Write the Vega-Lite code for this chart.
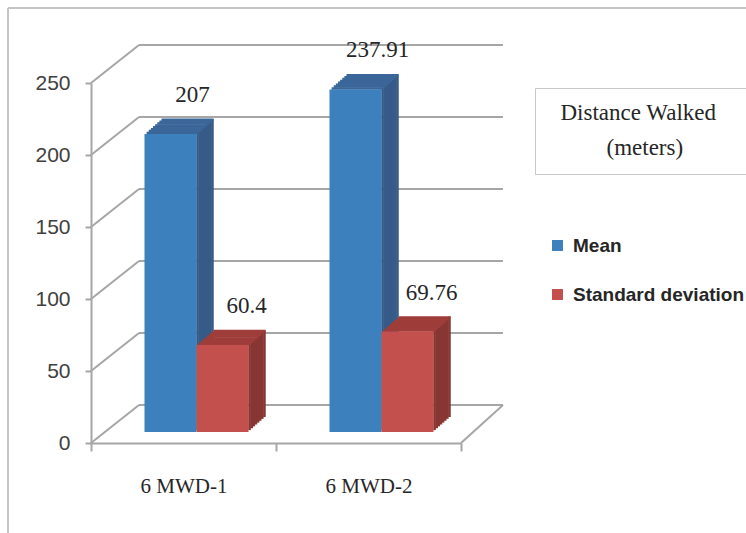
{
  "$schema": "https://vega.github.io/schema/vega-lite/v6.json",
  "width": 370,
  "height": 360,
  "autosize": {"type": "none"},
  "padding": {"left": 91, "top": 83, "right": 285, "bottom": 90},
  "background": "white",
  "config": {"view": {"stroke": null}},
  "data": {"values": [
    {"group": "6 MWD-1", "series": "Mean", "value": 207},
    {"group": "6 MWD-1", "series": "Standard deviation", "value": 60.4},
    {"group": "6 MWD-2", "series": "Mean", "value": 237.91},
    {"group": "6 MWD-2", "series": "Standard deviation", "value": 69.76}
  ]},
  "layer": [
    {"data": {"values": [{"v": 250}]}, "mark": {"type": "rule", "color": "#C4C4C4", "strokeWidth": 2, "xOffset": -175.5, "x2Offset": 562.5, "yOffset": -75},
     "encoding": {"x": {"datum": "6 MWD-1", "type": "nominal", "scale": {"type": "band", "domain": ["6 MWD-1", "6 MWD-2"], "paddingInner": 0, "paddingOuter": 0}}, "x2": {"datum": "6 MWD-1"}, "y": {"field": "v", "type": "quantitative", "scale": {"domain": [0, 250], "nice": false}}}},
    {"data": {"values": [{"v": 250, "w": 0}]}, "mark": {"type": "rule", "color": "#C4C4C4", "strokeWidth": 2, "xOffset": -175.5, "x2Offset": -175.5, "yOffset": -75, "y2Offset": 92},
     "encoding": {"x": {"datum": "6 MWD-1", "type": "nominal"}, "x2": {"datum": "6 MWD-1"}, "y": {"field": "v", "type": "quantitative"}, "y2": {"field": "w"}}},
    {"data": {"values": [{"v": 0}, {"v": 50}, {"v": 100}, {"v": 150}, {"v": 200}, {"v": 250}]}, "mark": {"type": "rule", "color": "#A6A6A6", "strokeWidth": 2, "xOffset": -44.5, "x2Offset": 319.5, "yOffset": -38},
     "encoding": {"x": {"datum": "6 MWD-1", "type": "nominal"}, "x2": {"datum": "6 MWD-1"}, "y": {"field": "v", "type": "quantitative"}}},
    {"data": {"values": [{"v": 0}, {"v": 50}, {"v": 100}, {"v": 150}, {"v": 200}, {"v": 250}]}, "mark": {"type": "rule", "color": "#A6A6A6", "strokeWidth": 2, "xOffset": -92.5, "x2Offset": -44.5, "y2Offset": -38},
     "encoding": {"x": {"datum": "6 MWD-1", "type": "nominal"}, "x2": {"datum": "6 MWD-1"}, "y": {"field": "v", "type": "quantitative"}, "y2": {"field": "v"}}},
    {"data": {"values": [{"v": 0}]}, "mark": {"type": "rule", "color": "#A6A6A6", "strokeWidth": 2, "xOffset": 92.5, "x2Offset": 134.5, "y2Offset": -38},
     "encoding": {"x": {"datum": "6 MWD-2", "type": "nominal"}, "x2": {"datum": "6 MWD-2"}, "y": {"field": "v", "type": "quantitative"}, "y2": {"field": "v"}}},

    {"transform": [{"filter": "datum.series === 'Mean'"}], "mark": {"type": "bar", "width": 2.6, "color": "#365B88", "xOffset": 14.06, "yOffset": -12.88, "y2Offset": -12.88}, "encoding": {"x": {"field": "group", "type": "nominal"}, "y": {"field": "value", "type": "quantitative"}, "y2": {"datum": 0}}},
    {"transform": [{"filter": "datum.series === 'Mean'"}], "mark": {"type": "bar", "width": 2.6, "color": "#365B88", "xOffset": 16.19, "yOffset": -14.75, "y2Offset": -14.75}, "encoding": {"x": {"field": "group", "type": "nominal"}, "y": {"field": "value", "type": "quantitative"}, "y2": {"datum": 0}}},
    {"transform": [{"filter": "datum.series === 'Mean'"}], "mark": {"type": "bar", "width": 2.6, "color": "#365B88", "xOffset": 18.31, "yOffset": -16.63, "y2Offset": -16.63}, "encoding": {"x": {"field": "group", "type": "nominal"}, "y": {"field": "value", "type": "quantitative"}, "y2": {"datum": 0}}},
    {"transform": [{"filter": "datum.series === 'Mean'"}], "mark": {"type": "bar", "width": 2.6, "color": "#365B88", "xOffset": 20.44, "yOffset": -18.5, "y2Offset": -18.5}, "encoding": {"x": {"field": "group", "type": "nominal"}, "y": {"field": "value", "type": "quantitative"}, "y2": {"datum": 0}}},
    {"transform": [{"filter": "datum.series === 'Mean'"}], "mark": {"type": "bar", "width": 2.6, "color": "#365B88", "xOffset": 22.56, "yOffset": -20.38, "y2Offset": -20.38}, "encoding": {"x": {"field": "group", "type": "nominal"}, "y": {"field": "value", "type": "quantitative"}, "y2": {"datum": 0}}},
    {"transform": [{"filter": "datum.series === 'Mean'"}], "mark": {"type": "bar", "width": 2.6, "color": "#365B88", "xOffset": 24.69, "yOffset": -22.25, "y2Offset": -22.25}, "encoding": {"x": {"field": "group", "type": "nominal"}, "y": {"field": "value", "type": "quantitative"}, "y2": {"datum": 0}}},
    {"transform": [{"filter": "datum.series === 'Mean'"}], "mark": {"type": "bar", "width": 2.6, "color": "#365B88", "xOffset": 26.81, "yOffset": -24.13, "y2Offset": -24.13}, "encoding": {"x": {"field": "group", "type": "nominal"}, "y": {"field": "value", "type": "quantitative"}, "y2": {"datum": 0}}},
    {"transform": [{"filter": "datum.series === 'Mean'"}], "mark": {"type": "bar", "width": 2.6, "color": "#365B88", "xOffset": 28.94, "yOffset": -26, "y2Offset": -26}, "encoding": {"x": {"field": "group", "type": "nominal"}, "y": {"field": "value", "type": "quantitative"}, "y2": {"datum": 0}}},

    {"transform": [{"filter": "datum.series === 'Mean'"}], "mark": {"type": "bar", "width": 52, "color": "#3A6699", "xOffset": -10.88, "yOffset": -13.18, "y2Offset": -10.7}, "encoding": {"x": {"field": "group", "type": "nominal"}, "y": {"field": "value", "type": "quantitative"}, "y2": {"field": "value"}}},
    {"transform": [{"filter": "datum.series === 'Mean'"}], "mark": {"type": "bar", "width": 52, "color": "#3A6699", "xOffset": -8.75, "yOffset": -15.05, "y2Offset": -12.58}, "encoding": {"x": {"field": "group", "type": "nominal"}, "y": {"field": "value", "type": "quantitative"}, "y2": {"field": "value"}}},
    {"transform": [{"filter": "datum.series === 'Mean'"}], "mark": {"type": "bar", "width": 52, "color": "#3A6699", "xOffset": -6.63, "yOffset": -16.93, "y2Offset": -14.45}, "encoding": {"x": {"field": "group", "type": "nominal"}, "y": {"field": "value", "type": "quantitative"}, "y2": {"field": "value"}}},
    {"transform": [{"filter": "datum.series === 'Mean'"}], "mark": {"type": "bar", "width": 52, "color": "#3A6699", "xOffset": -4.5, "yOffset": -18.8, "y2Offset": -16.33}, "encoding": {"x": {"field": "group", "type": "nominal"}, "y": {"field": "value", "type": "quantitative"}, "y2": {"field": "value"}}},
    {"transform": [{"filter": "datum.series === 'Mean'"}], "mark": {"type": "bar", "width": 52, "color": "#3A6699", "xOffset": -2.38, "yOffset": -20.68, "y2Offset": -18.2}, "encoding": {"x": {"field": "group", "type": "nominal"}, "y": {"field": "value", "type": "quantitative"}, "y2": {"field": "value"}}},
    {"transform": [{"filter": "datum.series === 'Mean'"}], "mark": {"type": "bar", "width": 52, "color": "#3A6699", "xOffset": -0.25, "yOffset": -22.55, "y2Offset": -20.08}, "encoding": {"x": {"field": "group", "type": "nominal"}, "y": {"field": "value", "type": "quantitative"}, "y2": {"field": "value"}}},
    {"transform": [{"filter": "datum.series === 'Mean'"}], "mark": {"type": "bar", "width": 52, "color": "#3A6699", "xOffset": 1.88, "yOffset": -24.43, "y2Offset": -21.95}, "encoding": {"x": {"field": "group", "type": "nominal"}, "y": {"field": "value", "type": "quantitative"}, "y2": {"field": "value"}}},
    {"transform": [{"filter": "datum.series === 'Mean'"}], "mark": {"type": "bar", "width": 52, "color": "#3A6699", "xOffset": 4, "yOffset": -26.3, "y2Offset": -23.83}, "encoding": {"x": {"field": "group", "type": "nominal"}, "y": {"field": "value", "type": "quantitative"}, "y2": {"field": "value"}}},

    {"transform": [{"filter": "datum.series === 'Mean'"}], "mark": {"type": "bar", "width": 52, "xOffset": -13, "yOffset": -11, "y2Offset": -11},
     "encoding": {
       "x": {"field": "group", "type": "nominal", "axis": {"title": null, "tickBand": "extent", "tickSize": 8, "labelAngle": 0, "labelAlign": "center", "labelFont": "Liberation Serif", "labelFontSize": 21, "labelColor": "#262626", "labelPadding": 35, "domainColor": "#A6A6A6", "domainWidth": 2, "tickColor": "#A6A6A6", "tickWidth": 2}},
       "y": {"field": "value", "type": "quantitative", "axis": {"values": [0, 50, 100, 150, 200, 250], "title": null, "grid": false, "domainColor": "#A6A6A6", "domainWidth": 2, "tickColor": "#A6A6A6", "tickWidth": 2, "tickSize": 6, "labelFont": "Liberation Sans", "labelFontSize": 21, "labelColor": "#404040", "labelPadding": 15}},
       "y2": {"datum": 0},
       "color": {"field": "series", "type": "nominal", "scale": {"domain": ["Mean", "Standard deviation"], "range": ["#3D80BE", "#C3504D"]},
         "legend": {"title": null, "orient": "none", "legendX": 457, "legendY": 153, "symbolType": "square", "symbolSize": 120, "symbolStrokeWidth": 0, "labelFont": "Liberation Sans", "labelFontWeight": "bold", "labelFontSize": 19, "labelColor": "#262626", "labelLimit": 400, "rowPadding": 29, "padding": 0, "labelOffset": 6}},
       "opacity": {"field": "group", "type": "nominal", "scale": {"range": [1, 1]},
         "legend": {"title": ["\u200b\u00a0\u00a0Distance Walked\u00a0\u00a0\u00a0\u200b", "\u200b\u00a0\u00a0\u00a0\u00a0\u00a0\u00a0\u00a0\u00a0\u00a0\u00a0(meters)"], "values": [], "orient": "none", "legendX": 444, "legendY": 5, "strokeColor": "#C8C8C8", "padding": 14, "titlePadding": 0, "titleFont": "Liberation Serif", "titleFontSize": 23, "titleFontWeight": "normal", "titleAlign": "left", "titleAnchor": "start", "titleColor": "#262626", "titleLineHeight": 35, "titleLimit": 500}}
     }},

    {"transform": [{"filter": "datum.series === 'Standard deviation'"}], "mark": {"type": "bar", "width": 2.6, "color": "#873633", "xOffset": 66.06, "yOffset": -12.88, "y2Offset": -12.88}, "encoding": {"x": {"field": "group", "type": "nominal"}, "y": {"field": "value", "type": "quantitative"}, "y2": {"datum": 0}}},
    {"transform": [{"filter": "datum.series === 'Standard deviation'"}], "mark": {"type": "bar", "width": 2.6, "color": "#873633", "xOffset": 68.19, "yOffset": -14.75, "y2Offset": -14.75}, "encoding": {"x": {"field": "group", "type": "nominal"}, "y": {"field": "value", "type": "quantitative"}, "y2": {"datum": 0}}},
    {"transform": [{"filter": "datum.series === 'Standard deviation'"}], "mark": {"type": "bar", "width": 2.6, "color": "#873633", "xOffset": 70.31, "yOffset": -16.63, "y2Offset": -16.63}, "encoding": {"x": {"field": "group", "type": "nominal"}, "y": {"field": "value", "type": "quantitative"}, "y2": {"datum": 0}}},
    {"transform": [{"filter": "datum.series === 'Standard deviation'"}], "mark": {"type": "bar", "width": 2.6, "color": "#873633", "xOffset": 72.44, "yOffset": -18.5, "y2Offset": -18.5}, "encoding": {"x": {"field": "group", "type": "nominal"}, "y": {"field": "value", "type": "quantitative"}, "y2": {"datum": 0}}},
    {"transform": [{"filter": "datum.series === 'Standard deviation'"}], "mark": {"type": "bar", "width": 2.6, "color": "#873633", "xOffset": 74.56, "yOffset": -20.38, "y2Offset": -20.38}, "encoding": {"x": {"field": "group", "type": "nominal"}, "y": {"field": "value", "type": "quantitative"}, "y2": {"datum": 0}}},
    {"transform": [{"filter": "datum.series === 'Standard deviation'"}], "mark": {"type": "bar", "width": 2.6, "color": "#873633", "xOffset": 76.69, "yOffset": -22.25, "y2Offset": -22.25}, "encoding": {"x": {"field": "group", "type": "nominal"}, "y": {"field": "value", "type": "quantitative"}, "y2": {"datum": 0}}},
    {"transform": [{"filter": "datum.series === 'Standard deviation'"}], "mark": {"type": "bar", "width": 2.6, "color": "#873633", "xOffset": 78.81, "yOffset": -24.13, "y2Offset": -24.13}, "encoding": {"x": {"field": "group", "type": "nominal"}, "y": {"field": "value", "type": "quantitative"}, "y2": {"datum": 0}}},
    {"transform": [{"filter": "datum.series === 'Standard deviation'"}], "mark": {"type": "bar", "width": 2.6, "color": "#873633", "xOffset": 80.94, "yOffset": -26, "y2Offset": -26}, "encoding": {"x": {"field": "group", "type": "nominal"}, "y": {"field": "value", "type": "quantitative"}, "y2": {"datum": 0}}},

    {"transform": [{"filter": "datum.series === 'Standard deviation'"}], "mark": {"type": "bar", "width": 52, "color": "#9E3D3A", "xOffset": 41.13, "yOffset": -13.18, "y2Offset": -10.7}, "encoding": {"x": {"field": "group", "type": "nominal"}, "y": {"field": "value", "type": "quantitative"}, "y2": {"field": "value"}}},
    {"transform": [{"filter": "datum.series === 'Standard deviation'"}], "mark": {"type": "bar", "width": 52, "color": "#9E3D3A", "xOffset": 43.25, "yOffset": -15.05, "y2Offset": -12.58}, "encoding": {"x": {"field": "group", "type": "nominal"}, "y": {"field": "value", "type": "quantitative"}, "y2": {"field": "value"}}},
    {"transform": [{"filter": "datum.series === 'Standard deviation'"}], "mark": {"type": "bar", "width": 52, "color": "#9E3D3A", "xOffset": 45.38, "yOffset": -16.93, "y2Offset": -14.45}, "encoding": {"x": {"field": "group", "type": "nominal"}, "y": {"field": "value", "type": "quantitative"}, "y2": {"field": "value"}}},
    {"transform": [{"filter": "datum.series === 'Standard deviation'"}], "mark": {"type": "bar", "width": 52, "color": "#9E3D3A", "xOffset": 47.5, "yOffset": -18.8, "y2Offset": -16.33}, "encoding": {"x": {"field": "group", "type": "nominal"}, "y": {"field": "value", "type": "quantitative"}, "y2": {"field": "value"}}},
    {"transform": [{"filter": "datum.series === 'Standard deviation'"}], "mark": {"type": "bar", "width": 52, "color": "#9E3D3A", "xOffset": 49.63, "yOffset": -20.68, "y2Offset": -18.2}, "encoding": {"x": {"field": "group", "type": "nominal"}, "y": {"field": "value", "type": "quantitative"}, "y2": {"field": "value"}}},
    {"transform": [{"filter": "datum.series === 'Standard deviation'"}], "mark": {"type": "bar", "width": 52, "color": "#9E3D3A", "xOffset": 51.75, "yOffset": -22.55, "y2Offset": -20.08}, "encoding": {"x": {"field": "group", "type": "nominal"}, "y": {"field": "value", "type": "quantitative"}, "y2": {"field": "value"}}},
    {"transform": [{"filter": "datum.series === 'Standard deviation'"}], "mark": {"type": "bar", "width": 52, "color": "#9E3D3A", "xOffset": 53.88, "yOffset": -24.43, "y2Offset": -21.95}, "encoding": {"x": {"field": "group", "type": "nominal"}, "y": {"field": "value", "type": "quantitative"}, "y2": {"field": "value"}}},
    {"transform": [{"filter": "datum.series === 'Standard deviation'"}], "mark": {"type": "bar", "width": 52, "color": "#9E3D3A", "xOffset": 56, "yOffset": -26.3, "y2Offset": -23.83}, "encoding": {"x": {"field": "group", "type": "nominal"}, "y": {"field": "value", "type": "quantitative"}, "y2": {"field": "value"}}},

    {"transform": [{"filter": "datum.series === 'Standard deviation'"}], "mark": {"type": "bar", "width": 52, "xOffset": 39, "yOffset": -11, "y2Offset": -11},
     "encoding": {"x": {"field": "group", "type": "nominal"}, "y": {"field": "value", "type": "quantitative"}, "y2": {"datum": 0}, "color": {"field": "series", "type": "nominal"}}},

    {"transform": [{"filter": "datum.series === 'Mean'"}], "mark": {"type": "text", "xOffset": 9, "yOffset": -50, "baseline": "middle", "font": "Liberation Serif", "fontSize": 23, "color": "#262626"},
     "encoding": {"x": {"field": "group", "type": "nominal"}, "y": {"field": "value", "type": "quantitative"}, "text": {"field": "value", "type": "nominal"}}},
    {"transform": [{"filter": "datum.series === 'Standard deviation'"}], "mark": {"type": "text", "xOffset": 63, "yOffset": -50, "baseline": "middle", "font": "Liberation Serif", "fontSize": 23, "color": "#262626"},
     "encoding": {"x": {"field": "group", "type": "nominal"}, "y": {"field": "value", "type": "quantitative"}, "text": {"field": "value", "type": "nominal"}}}
  ]
}
